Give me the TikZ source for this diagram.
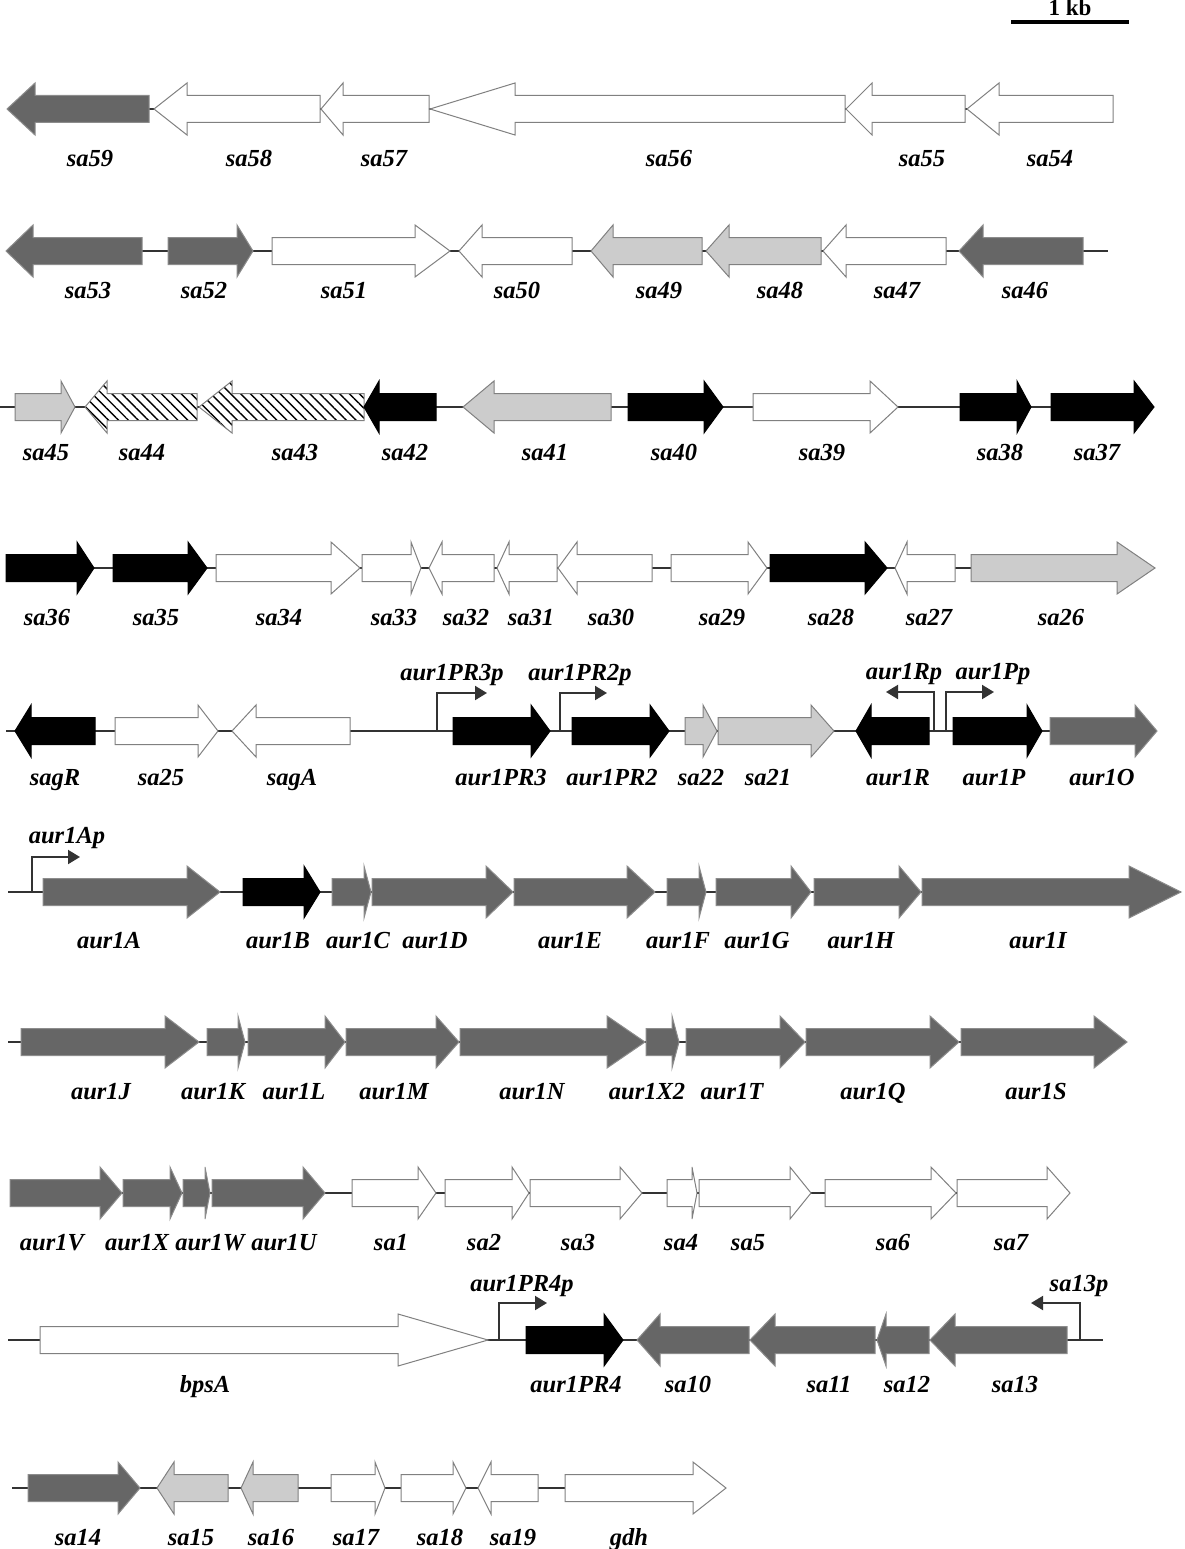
\documentclass[tikz,border=0pt]{standalone}
\usepackage{fontspec}
\setmainfont{Liberation Serif}
\usetikzlibrary{arrows.meta,patterns.meta}

\newcommand{\generow}[3]{%
\foreach \gn/\gs/\xs/\xh/\xt/\lx in {#3}
{
\draw[\gs] (\xs,#1-13.5) -- (\xh,#1-13.5) -- (\xh,#1-26) -- (\xt,#1) -- (\xh,#1+26) -- (\xh,#1+13.5) -- (\xs,#1+13.5) -- cycle;
\node[lbl] (\gn) at (\lx,#2) {\gn};
}}

\begin{document}
\begin{tikzpicture}[x=1pt,y=-1pt,
dk/.style={draw=black!45,fill=black!60,line width=1pt},
lt/.style={draw=black!50,fill=black!20,line width=1pt},
wt/.style={draw=black!50,fill=white,line width=1pt},
bk/.style={draw=black,fill=black,line width=1pt},
ht/.style={draw=black!50,line width=1pt,preaction={fill=white},pattern={Lines[angle=-45,distance=7pt,line width=1.4pt]}},
lbl/.style={font=\fontsize{24.5}{25}\selectfont\bfseries\itshape,anchor=base,inner sep=0pt},
bb/.style={draw=black!80,line width=2.5pt},
prom/.style={draw=black!80,line width=2pt,-{Triangle[length=12pt,width=14pt]}}]
\useasboundingbox (0,0) rectangle (1184,1549);

\coordinate (kb1) at (1011,22);
\coordinate (kb2) at (1129,22);
\draw[line width=3.5pt] (kb1) -- (kb2);
\node[font=\fontsize{23}{23}\selectfont\bfseries,anchor=base,inner sep=0pt] (kb) at (1070,16) {1 kb};

\coordinate (r1a) at (7,109);    \coordinate (r1b) at (1113,109);
\coordinate (r2a) at (6,251);    \coordinate (r2b) at (1108,251);
\coordinate (r3a) at (0,407);    \coordinate (r3b) at (1154,407);
\coordinate (r4a) at (6,568);    \coordinate (r4b) at (1155,568);
\coordinate (r5a) at (6,731);    \coordinate (r5b) at (1157,731);
\coordinate (r6a) at (8,892);    \coordinate (r6b) at (1181,892);
\coordinate (r7a) at (8,1042);   \coordinate (r7b) at (1127,1042);
\coordinate (r8a) at (10,1193);  \coordinate (r8b) at (1070,1193);
\coordinate (r9a) at (8,1340);   \coordinate (r9b) at (1103,1340);
\coordinate (r10a) at (12,1488); \coordinate (r10b) at (726,1488);
\foreach \r in {1,...,10}
\draw[bb] (r\r a) -- (r\r b);

\generow{109}{167}{sa59/dk/149/35/7/90, sa58/wt/320/187/154/249, sa57/wt/429/343/321/384,
sa56/wt/845/515/430/669, sa55/wt/965/872/846/922, sa54/wt/1113/999/967/1050}

\generow{251}{298}{sa53/dk/142/33/6/88, sa52/dk/168/237/253/204, sa51/wt/272/415/450/344,
sa50/wt/572/482/459/517, sa49/lt/702/613/591/659, sa48/lt/821/729/706/780,
sa47/wt/946/846/823/897, sa46/dk/1083/983/959/1025}

\generow{407}{460}{sa45/lt/15/61/75/46, sa44/ht/197/107/85/142, sa43/ht/364/232/199/295,
sa42/bk/436/379/364/405, sa41/lt/611/494/463/545, sa40/bk/628/704/723/674,
sa39/wt/753/870/898/822, sa38/bk/960/1017/1031/1000, sa37/bk/1051/1134/1154/1097}

\generow{568}{625}{sa36/bk/6/77/94/47, sa35/bk/113/188/207/156, sa34/wt/216/331/360/279,
sa33/wt/362/411/421/394, sa32/wt/494/442/429/466, sa31/wt/557/509/497/531,
sa30/wt/652/577/558/611, sa29/wt/671/748/767/722, sa28/bk/770/865/887/831,
sa27/wt/955/907/895/929, sa26/lt/971/1117/1155/1061}

\generow{731}{785}{sagR/bk/95/31/15/55, sa25/wt/115/198/218/161, sagA/wt/350/256/232/292,
aur1PR3/bk/453/531/550/501, aur1PR2/bk/572/650/669/612, sa22/lt/685/703/717/701,
sa21/lt/718/811/834/768, aur1R/bk/929/871/856/898, aur1P/bk/953/1027/1042/994,
aur1O/dk/1050/1135/1157/1102}

\generow{892}{948}{aur1A/dk/43/187/220/109, aur1B/bk/243/304/320/278, aur1C/dk/332/364/371/358,
aur1D/dk/372/486/513/435, aur1E/dk/514/627/655/570, aur1F/dk/667/699/706/678,
aur1G/dk/716/791/811/757, aur1H/dk/814/899/921/861, aur1I/dk/922/1129/1181/1038}

\generow{1042}{1099}{aur1J/dk/21/165/199/101, aur1K/dk/207/238/245/213, aur1L/dk/248/325/345/294,
aur1M/dk/346/436/459/394, aur1N/dk/460/607/645/532, aur1X2/dk/646/672/679/647,
aur1T/dk/686/780/805/732, aur1Q/dk/806/930/959/873, aur1S/dk/961/1094/1127/1036}

\generow{1193}{1250}{aur1V/dk/10/100/122/52, aur1X/dk/123/170/182/137, aur1W/dk/183/205/210/210,
aur1U/dk/212/303/325/284, sa1/wt/352/418/436/391, sa2/wt/445/512/529/484,
sa3/wt/530/620/642/578, sa4/wt/667/692/697/681, sa5/wt/699/790/811/748,
sa6/wt/825/931/956/893, sa7/wt/957/1047/1070/1011}

\generow{1340}{1392}{bpsA/wt/40/398/488/205, aur1PR4/bk/526/604/623/576, sa10/dk/749/660/637/688,
sa11/dk/875/775/750/829, sa12/dk/929/886/877/907, sa13/dk/1067/955/930/1015}

\generow{1488}{1545}{sa14/dk/28/118/140/78, sa15/lt/228/174/157/191, sa16/lt/298/253/241/271,
sa17/wt/331/375/385/356, sa18/wt/401/453/466/440, sa19/wt/538/491/478/513,
gdh/wt/565/693/726/629}

\coordinate (p3) at (437,731);  \coordinate (p3e) at (487,693);
\coordinate (p2) at (560,731);  \coordinate (p2e) at (607,693);
\coordinate (pR) at (934,731);  \coordinate (pRe) at (886,692);
\coordinate (pP) at (946,731);  \coordinate (pPe) at (994,692);
\coordinate (pA) at (32,892);   \coordinate (pAe) at (80,857);
\coordinate (p4) at (499,1340); \coordinate (p4e) at (547,1303);
\coordinate (p13) at (1080,1340); \coordinate (p13e) at (1031,1303);
\draw[prom] (p3) |- (p3e);
\draw[prom] (p2) |- (p2e);
\draw[prom] (pR) |- (pRe);
\draw[prom] (pP) |- (pPe);
\draw[prom] (pA) |- (pAe);
\draw[prom] (p4) |- (p4e);
\draw[prom] (p13) |- (p13e);
\node[lbl] (aur1PR3p) at (452,680) {aur1PR3p};
\node[lbl] (aur1PR2p) at (580,680) {aur1PR2p};
\node[lbl] (aur1Rp) at (904,679) {aur1Rp};
\node[lbl] (aur1Pp) at (993,679) {aur1Pp};
\node[lbl] (aur1Ap) at (67,843) {aur1Ap};
\node[lbl] (aur1PR4p) at (522,1291) {aur1PR4p};
\node[lbl] (sa13p) at (1079,1291) {sa13p};
\end{tikzpicture}
\end{document}
